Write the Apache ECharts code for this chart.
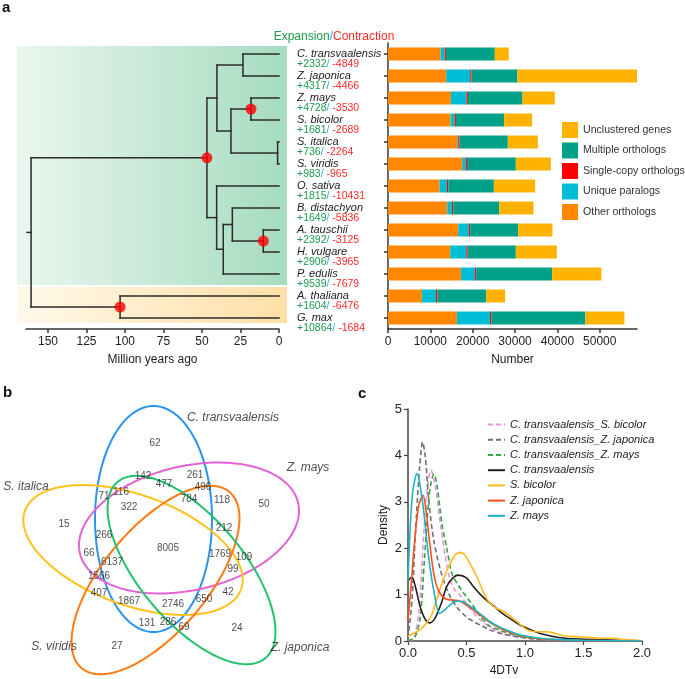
<!DOCTYPE html>
<html><head><meta charset="utf-8">
<script src="https://cdn.jsdelivr.net/npm/echarts@6/dist/echarts.min.js"></script>
<style>html,body{margin:0;padding:0;background:#fff}#c{width:685px;height:679px}</style>
</head><body><div id="c"></div>
<script>
// ---------- Panel a: phylogeny + gene family composition ----------
const species = ['C. transvaalensis','Z. japonica','Z. mays','S. bicolor','S. italica','S. viridis','O. sativa','B. distachyon','A. tauschii','H. vulgare','P. edulis','A. thaliana','G. max'];
const expansion   = [2332,4317,4728,1681,736,983,1815,1649,2392,2906,9539,1604,10864];
const contraction = [4849,4466,3530,2689,2264,965,10431,5836,3125,3965,7679,6476,1684];
// tree nodes: [left, right, age (Mya), calibrated]; leaves are species indices
const tree = [[[[0,1,23.4],[[2,3,18.2,1],[4,5,0.9],31.2],40.3],[6,[[7,[8,9,10.2,1],30.3],10,36.2],40.5],46.8,1],[11,12,103.2,1],161];
const rootStemAge = 163.6;
const ageTicks = [0,25,50,75,100,125,150];

const otherOrthologs    = [12400,13760,14860,14780,16350,17530,12190,13990,16590,14700,17220,8020,16270];
const uniqueParalogs    = [950,5660,3690,940,240,790,1730,1100,2510,3780,3300,3300,7790];
const singleCopy        = [320,320,320,320,320,320,320,320,320,320,320,320,320];
const multipleOrthologs = [11550,10840,12890,11400,11390,11550,10760,10850,11320,11390,17920,11550,22240];
const unclustered       = [3300,28220,7630,6600,7080,8250,9750,8100,8100,9670,11640,4480,9200];
const numberTicks = [0,10000,20000,30000,40000,50000];

// ---------- Panel b: Venn ----------
const vennSets = ['C. transvaalensis','Z. mays','S. italica','S. viridis','Z. japonica'];
const vennCounts = [62,142,477,71,116,784,322,15,266,8005,66,6137,1566,407,1867,2746,131,286,69,27,261,496,118,50,212,1769,109,99,42,650,24];

// ---------- Panel c: 4DTv density ----------
const dCtSb = [[0,0],[0.05,0.05],[0.09,0.59],[0.115,1.4],[0.134,2.32],[0.163,3.25],[0.197,3.68],[0.234,3.32],[0.277,2.53],[0.32,1.81],[0.36,1.31],[0.405,1.09],[0.45,0.97],[0.53,0.7],[0.62,0.45],[0.7,0.3],[0.79,0.19],[0.88,0.12],[0.96,0.08],[1.1,0.04],[1.3,0.02],[1.6,0.008],[2.0,0.002]];
const dCtZj = [[0,0.05],[0.034,0.88],[0.063,2.3],[0.1,3.76],[0.125,4.29],[0.148,3.97],[0.177,3.04],[0.22,2.17],[0.277,1.53],[0.348,1.02],[0.42,0.72],[0.5,0.52],[0.56,0.42],[0.62,0.34],[0.7,0.24],[0.79,0.16],[0.96,0.08],[1.1,0.04],[1.3,0.02],[1.6,0.006],[2.0,0.001]];
const dCtZm = [[0,0],[0.06,0.09],[0.105,0.52],[0.14,1.74],[0.177,3.04],[0.2,3.45],[0.222,3.6],[0.248,3.35],[0.29,2.53],[0.334,1.96],[0.376,1.45],[0.43,1.2],[0.5,0.95],[0.56,0.75],[0.62,0.52],[0.7,0.32],[0.79,0.23],[0.88,0.15],[0.96,0.1],[1.13,0.05],[1.3,0.025],[1.6,0.01],[2.0,0.002]];
const dCt   = [[0,1.3],[0.034,1.38],[0.06,1.2],[0.105,0.73],[0.14,0.5],[0.17,0.4],[0.19,0.39],[0.22,0.45],[0.25,0.59],[0.29,0.85],[0.33,1.17],[0.38,1.35],[0.43,1.42],[0.5,1.36],[0.56,1.17],[0.62,1.0],[0.68,0.86],[0.74,0.74],[0.79,0.63],[0.88,0.47],[0.96,0.34],[1.05,0.24],[1.13,0.16],[1.3,0.07],[1.47,0.04],[1.73,0.02],[2.0,0.003]];
const dSb   = [[0,0.1],[0.05,0.17],[0.1,0.24],[0.15,0.36],[0.2,0.55],[0.24,0.85],[0.28,1.17],[0.32,1.45],[0.36,1.67],[0.4,1.84],[0.44,1.91],[0.48,1.87],[0.533,1.65],[0.59,1.38],[0.64,1.08],[0.68,0.88],[0.733,0.74],[0.78,0.68],[0.82,0.63],[0.86,0.56],[0.9,0.48],[0.95,0.38],[0.99,0.29],[1.04,0.22],[1.1,0.2],[1.18,0.2],[1.25,0.17],[1.32,0.12],[1.4,0.1],[1.53,0.08],[1.65,0.06],[1.75,0.06],[1.85,0.03],[2.0,0.005]];
const dZj   = [[0,0.45],[0.03,1.3],[0.05,1.96],[0.09,2.9],[0.128,3.14],[0.15,2.9],[0.177,2.3],[0.22,1.45],[0.26,1.09],[0.32,0.91],[0.4,0.88],[0.45,0.85],[0.53,0.72],[0.62,0.55],[0.7,0.4],[0.79,0.27],[0.88,0.18],[0.96,0.12],[1.13,0.05],[1.3,0.025],[1.5,0.012],[1.8,0.004],[2.0,0.001]];
const dZm   = [[0,1.3],[0.02,2.5],[0.04,3.2],[0.06,3.5],[0.077,3.61],[0.1,3.4],[0.134,2.8],[0.177,1.8],[0.22,1.09],[0.27,0.6],[0.31,0.66],[0.36,0.78],[0.42,0.86],[0.47,0.85],[0.53,0.75],[0.62,0.58],[0.7,0.42],[0.79,0.29],[0.88,0.2],[0.96,0.13],[1.13,0.06],[1.3,0.03],[1.5,0.015],[1.8,0.005],[2.0,0.001]];
const densityTicks = [0,0.5,1,1.5,2];

// ---------- layout (positions / styles only) ----------
const FONT = 'Liberation Sans, Arial, Helvetica, sans-serif';
const vennCountPos = [[155,443],[143,476],[164,484],[104,496],[121,492],[189,499],[129,507],[64,524],[104,535],[168,548],[89,553],[112,562],[99,576],[99,593],[129,601],[173,604],[147,623],[168,622],[184,627],[117,646],[195,475],[203,487],[222,500],[264,504],[224,528],[220,554],[244,557],[233,569],[228,592],[204,599],[237,628]];
const vennShape = [[153.5,519,58.5,113,0],[189,528,112,62,-13],[133,550,115,55,20],[155.5,580,115,52,-50],[191.5,570,115,52,50]];
const vennColors = ['#2A93F0','#E462D3','#FFC11A','#FF7A12','#22C26E'];
const vennLabelPos = [[233,418],[308,468],[26,487],[54,647],[300,648]];

const segs = [], dots = [];
function layoutTree(node){
  if (typeof node === 'number') return {t:0, y:node};
  const [l, r, age, cal] = node;
  const a = layoutTree(l), b = layoutTree(r);
  segs.push([age, a.y, a.t, a.y]);
  segs.push([age, b.y, b.t, b.y]);
  segs.push([age, a.y, age, b.y]);
  const y = (a.y + b.y) / 2;
  if (cal) dots.push([age, y]);
  return {t: age, y};
}
const rootNode = layoutTree(tree);
segs.push([rootStemAge, rootNode.y, rootNode.t, rootNode.y]);

const chart = echarts.init(document.getElementById('c'), null, {width:685, height:679, renderer:'canvas'});
const axisLineStyle = {color:'#333', width:1.5};
const LG = echarts.graphic.LinearGradient;

const densitySeries = [
  ['C. transvaalensis_S. bicolor', dCtSb, '#F58FE6', true],
  ['C. transvaalensis_Z. japonica', dCtZj, '#6F6F72', true],
  ['C. transvaalensis_Z. mays', dCtZm, '#2EA836', true],
  ['C. transvaalensis', dCt, '#2A1E1E', false],
  ['S. bicolor', dSb, '#FFBA1E', false],
  ['Z. japonica', dZj, '#FF4E1C', false],
  ['Z. mays', dZm, '#1BB3C6', false]
].map(([name, data, color, dashed]) => ({
  name, type:'line', xAxisIndex:3, yAxisIndex:3, data, smooth:0.3, symbol:'none', silent:true,
  lineStyle:{color, width:1.6, type: dashed ? [5,3] : 'solid'}, itemStyle:{color}
}));

const option = {
  animation:false,
  textStyle:{fontFamily:FONT},
  grid:[
    {left:26, top:43, width:253, height:286},   // tree
    {left:388, top:43, width:249, height:286},  // bars
    {left:0, top:370, width:360, height:309},   // venn
    {left:408, top:409, width:234, height:232}  // density
  ],
  xAxis:[
    {gridIndex:0, type:'value', inverse:true, min:0, max:164.3,
     axisLine:{show:true, onZero:false, lineStyle:axisLineStyle},
     axisTick:{show:true, length:4, customValues:ageTicks, lineStyle:axisLineStyle},
     axisLabel:{customValues:ageTicks, fontSize:12, color:'#222', margin:7},
     splitLine:{show:false}, name:'Million years ago', nameLocation:'middle', nameGap:25,
     nameTextStyle:{fontSize:12, color:'#222'}},
    {gridIndex:1, type:'value', min:0, max:58800,
     axisLine:{show:true, onZero:false, lineStyle:axisLineStyle},
     axisTick:{show:true, length:4, customValues:numberTicks, lineStyle:axisLineStyle},
     axisLabel:{customValues:numberTicks, fontSize:12, color:'#222', margin:7, formatter:v=>String(v)},
     splitLine:{show:false}, name:'Number', nameLocation:'middle', nameGap:25,
     nameTextStyle:{fontSize:12, color:'#222'}},
    {gridIndex:2, type:'value', min:0, max:360, show:false},
    {gridIndex:3, type:'value', min:0, max:2, interval:0.5,
     axisLine:{show:true, onZero:false, lineStyle:{color:'#444', width:1.5}},
     axisTick:{show:true, length:4, lineStyle:{color:'#444', width:1.2}},
     axisLabel:{fontSize:13, color:'#222', margin:6, formatter:v=>v.toFixed(1), customValues:densityTicks},
     splitLine:{show:false}, name:'4DTv', nameLocation:'middle', nameGap:24,
     nameTextStyle:{fontSize:12, color:'#222', padding:[0,42,0,0]}}
  ],
  yAxis:[
    {gridIndex:0, type:'value', inverse:true, min:-0.5, max:12.5, show:false},
    {gridIndex:1, type:'category', inverse:true, data:species,
     axisLine:{show:true, lineStyle:axisLineStyle},
     axisTick:{show:true, alignWithLabel:true, length:4, lineStyle:axisLineStyle},
     axisLabel:{interval:0, align:'left', margin:91, padding:[10,0,0,0],
       formatter:(v,i)=>`{sp|${v}}\n{g|+${expansion[i]}}{s|/ }{r|-${contraction[i]}}`,
       rich:{
         sp:{fontSize:11, fontStyle:'italic', color:'#222', lineHeight:10, fontFamily:FONT},
         g:{fontSize:10.5, color:'#1E9A4C', lineHeight:10, fontFamily:FONT},
         s:{fontSize:10.5, color:'#2AA7E0', lineHeight:10, fontFamily:FONT},
         r:{fontSize:10.5, color:'#FF2A2A', lineHeight:10, fontFamily:FONT}
       }}},
    {gridIndex:2, type:'value', inverse:true, min:370, max:679, show:false},
    {gridIndex:3, type:'value', min:0, max:5, interval:1,
     axisLine:{show:true, lineStyle:{color:'#444', width:1.5}},
     axisTick:{show:true, length:4, lineStyle:{color:'#444', width:1.2}},
     axisLabel:{fontSize:13, color:'#222', margin:6},
     splitLine:{show:false}, name:'Density', nameLocation:'middle', nameGap:18,
     nameTextStyle:{fontSize:12, color:'#222'}}
  ],
  legend:[
    {data:['Unclustered genes','Multiple orthologs','Single-copy orthologs','Unique paralogs','Other orthologs'],
     orient:'vertical', left:557, top:117, itemWidth:16, itemHeight:16, itemGap:4.5, icon:'rect', itemGap:4.5,
     selectedMode:false, textStyle:{fontSize:10.6, color:'#333'}},
    {data:['C. transvaalensis_S. bicolor','C. transvaalensis_Z. japonica','C. transvaalensis_Z. mays','C. transvaalensis','S. bicolor','Z. japonica','Z. mays'],
     orient:'vertical', left:482, top:414, itemWidth:17, itemHeight:14, itemGap:4,
     itemStyle:{opacity:0}, selectedMode:false, textStyle:{fontSize:11, color:'#222', fontStyle:'italic'}}
  ],
  graphic:[
    {type:'rect', z:0, shape:{x:17, y:46, width:270, height:239},
     style:{fill:new LG(0,0,1,0,[{offset:0,color:'#EAF6EF'},{offset:1,color:'#A6DCC0'}])}},
    {type:'rect', z:0, shape:{x:17, y:287, width:270, height:36},
     style:{fill:new LG(0,0,1,0,[{offset:0,color:'#FFF9EB'},{offset:1,color:'#FFDFA6'}])}},
    {type:'text', x:2, y:0, style:{text:'a', font:'bold 15px '+FONT, fill:'#111'}},
    {type:'text', x:3, y:385, style:{text:'b', font:'bold 15px '+FONT, fill:'#111'}},
    {type:'text', x:358, y:386, style:{text:'c', font:'bold 15px '+FONT, fill:'#111'}},
    {type:'text', x:334, y:37, style:{text:'{g|Expansion}{s|/}{r|Contraction}', textAlign:'center', textVerticalAlign:'middle',
      rich:{g:{fill:'#1E9A4C', fontSize:12, fontFamily:FONT}, s:{fill:'#2AA7E0', fontSize:12, fontFamily:FONT}, r:{fill:'#FF2A2A', fontSize:12, fontFamily:FONT}}}}
  ],
  series:[
    {type:'custom', xAxisIndex:0, yAxisIndex:0, data:segs, encode:{x:[0,2], y:[1,3]}, silent:true, z:3,
     renderItem:(params, api)=>{
       const p1 = api.coord([api.value(0), api.value(1)]);
       const p2 = api.coord([api.value(2), api.value(3)]);
       return {type:'line', shape:{x1:p1[0], y1:p1[1], x2:p2[0], y2:p2[1]},
               style:{stroke:'#2b2b2b', lineWidth:1.5, lineCap:'square'}};
     }},
    {type:'scatter', xAxisIndex:0, yAxisIndex:0, data:dots, symbolSize:11, silent:true, z:4,
     itemStyle:{color:'#FF0000'}},
    {name:'Other orthologs', type:'bar', stack:'g', xAxisIndex:1, yAxisIndex:1, data:otherOrthologs, barWidth:13, itemStyle:{color:'#FF8800'}},
    {name:'Unique paralogs', type:'bar', stack:'g', xAxisIndex:1, yAxisIndex:1, data:uniqueParalogs, barWidth:13, itemStyle:{color:'#00BDD6'}},
    {name:'Single-copy orthologs', type:'bar', stack:'g', xAxisIndex:1, yAxisIndex:1, data:singleCopy, barWidth:13, itemStyle:{color:'#FF0000'}},
    {name:'Multiple orthologs', type:'bar', stack:'g', xAxisIndex:1, yAxisIndex:1, data:multipleOrthologs, barWidth:13, itemStyle:{color:'#00A088'}},
    {name:'Unclustered genes', type:'bar', stack:'g', xAxisIndex:1, yAxisIndex:1, data:unclustered, barWidth:13, itemStyle:{color:'#FFB300'}},
    // Venn ellipses
    {type:'custom', xAxisIndex:2, yAxisIndex:2, silent:true, z:3,
     data:vennShape.map((s,i)=>({name:vennSets[i], value:s})),
     renderItem:(params, api)=>{
       const cx=api.value(0), cy=api.value(1), a=api.value(2), b=api.value(3), ph=api.value(4)*Math.PI/180;
       const pts=[];
       for(let k=0;k<=180;k++){
         const th=k/180*2*Math.PI;
         const x=cx + a*Math.cos(th)*Math.cos(ph) - b*Math.sin(th)*Math.sin(ph);
         const y=cy + a*Math.cos(th)*Math.sin(ph) + b*Math.sin(th)*Math.cos(ph);
         pts.push(api.coord([x,y]));
       }
       return {type:'polygon', shape:{points:pts}, style:{fill:'none', stroke:vennColors[params.dataIndex], lineWidth:2}};
     }},
    {type:'scatter', xAxisIndex:2, yAxisIndex:2, silent:true, symbolSize:0, z:5,
     data:vennCounts.map((v,i)=>({value:[vennCountPos[i][0], vennCountPos[i][1], v]})),
     label:{show:true, position:'inside', formatter:p=>p.value[2], fontSize:10, color:'#222'}},
    {type:'scatter', xAxisIndex:2, yAxisIndex:2, silent:true, symbolSize:0, z:5,
     data:vennSets.map((n,i)=>({name:n, value:vennLabelPos[i]})),
     label:{show:true, position:'inside', formatter:p=>p.name, fontSize:12, fontStyle:'italic', color:'#222'}},
    ...densitySeries
  ]
};
chart.setOption(option);
</script></body></html>
